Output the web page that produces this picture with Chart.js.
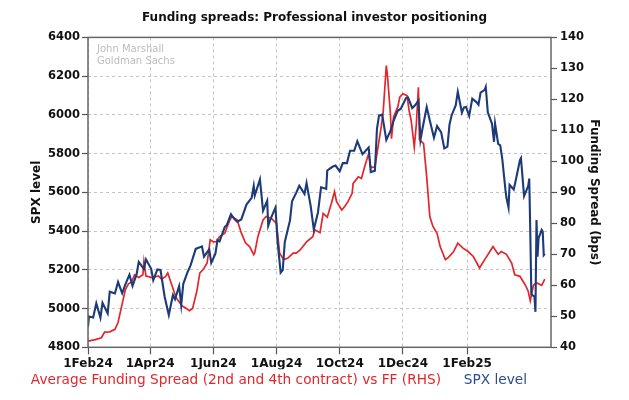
<!DOCTYPE html>
<html>
<head>
<meta charset="utf-8">
<script src="https://cdn.jsdelivr.net/npm/chart.js@4.4.1/dist/chart.umd.min.js"></script>
<style>
  html, body { margin: 0; padding: 0; background: #fff; }
  #wrap { width: 629px; height: 400px; }
</style>
</head>
<body>
<div id="wrap"><canvas id="myChart"></canvas></div>
<script>
// x axis ticks
var tickDates = ["2024-02-01", "2024-04-01", "2024-06-01", "2024-08-01", "2024-10-01", "2024-12-01", "2025-02-01"];
var tickLabels = ["1Feb24", "1Apr24", "1Jun24", "1Aug24", "1Oct24", "1Dec24", "1Feb25"];

// SPX level (LHS)
var spxDates = [
  "2024-02-01","2024-02-02","2024-02-06","2024-02-09","2024-02-13","2024-02-15","2024-02-20","2024-02-22","2024-02-27",
  "2024-03-01","2024-03-05","2024-03-08","2024-03-12","2024-03-15","2024-03-19","2024-03-21","2024-03-26","2024-03-28",
  "2024-04-02","2024-04-04","2024-04-08","2024-04-11","2024-04-15","2024-04-19","2024-04-23","2024-04-25","2024-04-29",
  "2024-05-01","2024-05-03","2024-05-07","2024-05-10","2024-05-15","2024-05-21","2024-05-23","2024-05-28","2024-05-30",
  "2024-06-03","2024-06-05","2024-06-07","2024-06-12","2024-06-14","2024-06-18","2024-06-21","2024-06-24","2024-06-28",
  "2024-07-03","2024-07-08","2024-07-10","2024-07-11","2024-07-16","2024-07-19","2024-07-23","2024-07-24","2024-07-26","2024-07-31",
  "2024-08-02","2024-08-05","2024-08-07","2024-08-09","2024-08-14","2024-08-16","2024-08-20","2024-08-23","2024-08-28","2024-08-30",
  "2024-09-03","2024-09-06","2024-09-10","2024-09-13","2024-09-18","2024-09-19","2024-09-24","2024-09-27",
  "2024-10-01","2024-10-04","2024-10-08","2024-10-11","2024-10-15","2024-10-18","2024-10-23","2024-10-25","2024-10-29","2024-10-31",
  "2024-11-04","2024-11-06","2024-11-08","2024-11-11","2024-11-15","2024-11-19","2024-11-22","2024-11-26","2024-11-29",
  "2024-12-04","2024-12-06","2024-12-10","2024-12-13","2024-12-16","2024-12-18","2024-12-20","2024-12-24","2024-12-27","2024-12-31",
  "2025-01-03","2025-01-07","2025-01-10","2025-01-13","2025-01-15","2025-01-17","2025-01-21","2025-01-23","2025-01-27","2025-01-29","2025-01-31",
  "2025-02-03","2025-02-06","2025-02-10","2025-02-12","2025-02-14","2025-02-18","2025-02-19","2025-02-21","2025-02-25","2025-02-27","2025-02-28",
  "2025-03-03","2025-03-05","2025-03-07","2025-03-10","2025-03-11","2025-03-13","2025-03-14","2025-03-18","2025-03-20","2025-03-24","2025-03-25","2025-03-28",
  "2025-04-01","2025-04-02","2025-04-03","2025-04-04","2025-04-07","2025-04-08","2025-04-09","2025-04-10","2025-04-11","2025-04-14","2025-04-15","2025-04-16","2025-04-17"
];
var spxValues = [
  4906,4959,4954,5027,4953,5030,4975,5087,5078,
  5137,5079,5124,5175,5117,5179,5241,5204,5254,
  5205,5147,5202,5199,5061,4967,5070,5048,5116,
  5018,5128,5187,5223,5308,5321,5268,5306,5236,
  5283,5354,5347,5421,5431,5487,5465,5448,5460,
  5537,5572,5633,5584,5667,5505,5556,5427,5459,5522,
  5346,5186,5199,5344,5455,5554,5597,5634,5592,5648,
  5529,5408,5496,5626,5618,5713,5732,5738,
  5709,5751,5751,5815,5815,5864,5797,5808,5832,5705,
  5712,5929,5996,6001,5871,5917,5969,6021,6032,
  6087,6090,6035,6051,6074,5872,5931,6040,5971,5882,
  5942,5909,5827,5836,5950,5997,6049,6119,6012,6039,6041,
  5995,6084,6066,6052,6115,6129,6144,6013,5955,5861,5955,
  5850,5843,5770,5614,5572,5522,5639,5615,5663,5767,5777,5581,
  5633,5671,5397,5074,5062,4983,5457,5268,5363,5406,5397,5276,5283
];

// Average funding spread vs FF, bps (RHS), days since 1 Feb 2024
var fundDays = [
  0,7,13,16,21,26,29,33,36,39,42,45,49,53,54,56,62,68,71,75,
  77,81,85,91,95,98,101,105,108,111,115,118,121,124,127,132,137,139,144,145,
  148,152,156,160,161,164,169,172,177,182,185,189,193,198,201,205,211,217,219,224,
  227,231,235,238,240,245,248,251,255,256,261,264,267,271,273,277,280,283,285,288,
  289,292,293,295,299,301,304,308,310,312,315,317,319,320,324,327,330,333,337,340,
  345,348,353,357,362,367,372,378,383,388,391,396,399,404,409,412,417,422,425,427,
  430,433,438,441
];
var fundValues = [
  42.0,42.5,43.1,44.9,45,45.8,48,54,58.5,60.5,61,63.4,62.5,63.4,67.7,63,62.5,63,62,62.9,
  64,60,56,53.3,52.5,51.8,52.5,58,64,65,67.2,74.7,74,74.1,75.7,76.8,81.1,82.2,81.1,80.0,
  76.9,73.7,72.5,69.9,70.5,75.7,81.1,82.2,81.6,80.0,70.4,68.3,68.8,70.4,70.4,71.5,74,75.7,77.9,77,
  83.2,82,86.5,90.2,87,84.3,85.5,87,89.7,92.9,95,94.5,98.2,102.5,98,98.2,104.6,111.0,116,130.9,
  128.2,115.3,107.3,114.3,117.5,120.7,121.8,121.2,116.4,113.2,104.6,112,123.9,107,105.7,95,82.2,79,76.8,72.5,
  68.3,69,70.9,73.6,72,70.9,69.3,65.6,68.3,70.9,72.5,70,70.9,70,67.2,63.4,62.9,60.2,58.1,55,
  60,60.8,60,62
];

var RED = "#e3262b";
var BLUE = "#1c3b78";
var FONT = "'DejaVu Sans', sans-serif";

function dayOf(s) {
  var p = s.split("-");
  return (Date.UTC(+p[0], +p[1] - 1, +p[2]) - Date.UTC(2024, 1, 1)) / 86400000;
}

var tickDays = tickDates.map(dayOf);
var spxPoints = spxDates.map(function (d, i) { return { x: dayOf(d), y: spxValues[i] }; });
var fundPoints = fundDays.map(function (d, i) { return { x: d, y: fundValues[i] }; });

// frame round the plot plus the watermark
var framePlugin = {
  id: "frame",
  afterDraw: function (chart) {
    var a = chart.chartArea, ctx = chart.ctx;
    ctx.save();
    ctx.strokeStyle = "#666";
    ctx.lineWidth = 1.5;
    ctx.strokeRect(a.left, a.top, a.right - a.left, a.bottom - a.top);
    ctx.fillStyle = "#bdbdbd";
    ctx.font = "10px " + FONT;
    ctx.textBaseline = "middle";
    ctx.fillText("John Marshall", a.left + 9, a.top + 12.5);
    ctx.fillText("Goldman Sachs", a.left + 9, a.top + 24);
    ctx.restore();
  }
};

new Chart(document.getElementById("myChart"), {
  type: "line",
  data: {
    datasets: [{
      label: "Average Funding Spread (2nd and 4th contract) vs FF (RHS)",
      data: fundPoints,
      yAxisID: "y1",
      borderColor: RED,
      borderWidth: 1.7,
      pointRadius: 0,
      tension: 0,
      fill: false,
      order: 2
    }, {
      label: "SPX level",
      data: spxPoints,
      yAxisID: "y",
      borderColor: BLUE,
      borderWidth: 2.1,
      pointRadius: 0,
      tension: 0,
      fill: false,
      order: 1
    }]
  },
  options: {
    responsive: true,
    maintainAspectRatio: false,
    animation: false,
    layout: { padding: { left: 8, right: 8, bottom: 3 } },
    plugins: {
      title: {
        display: true,
        text: "Funding spreads: Professional investor positioning",
        color: "#111",
        font: { family: FONT, size: 12, weight: "bold" },
        padding: { top: 10.5, bottom: 12.5 }
      },
      legend: {
        position: "bottom",
        align: "start",
        labels: {
          boxWidth: 12,
          boxHeight: 0,
          padding: 4,
          font: { family: FONT, size: 13.7 },
          generateLabels: function (chart) {
            return chart.data.datasets.map(function (ds, i) {
              return {
                text: ds.label,
                fontColor: i === 0 ? RED : "#2a4b8d",
                fillStyle: "rgba(0,0,0,0)",
                strokeStyle: "rgba(0,0,0,0)",
                lineWidth: 0,
                hidden: false,
                datasetIndex: i
              };
            });
          }
        }
      },
      tooltip: { enabled: false }
    },
    scales: {
      x: {
        type: "linear",
        min: 0,
        max: 447,
        afterBuildTicks: function (scale) {
          scale.ticks = tickDays.map(function (v) { return { value: v }; });
        },
        afterFit: function (scale) { scale.height = 22; },
        ticks: {
          autoSkip: false,
          maxRotation: 0,
          padding: 2,
          color: "#111",
          font: { family: FONT, size: 12, weight: "bold" },
          callback: function (v) {
            var i = tickDays.indexOf(v);
            return i >= 0 ? tickLabels[i] : "";
          }
        },
        grid: { color: "#c4c4c4", tickColor: "#555", tickLength: 7, tickWidth: 1.2 },
        border: { display: false, dash: [3, 3] }
      },
      y: {
        position: "left",
        min: 4800,
        max: 6400,
        afterFit: function (scale) { scale.width = 80; },
        ticks: {
          stepSize: 200,
          padding: 2,
          color: "#111",
          font: { family: FONT, size: 11.5, weight: "bold" },
          callback: function (v) { return String(v); }
        },
        title: {
          display: true,
          text: "SPX level",
          color: "#111",
          font: { family: FONT, size: 12, weight: "bold" },
          padding: { top: 22, bottom: 0 }
        },
        grid: { color: "#c4c4c4", tickColor: "#555", tickLength: 6, tickWidth: 1.2 },
        border: { display: false, dash: [3, 3] }
      },
      y1: {
        position: "right",
        min: 40,
        max: 140,
        afterFit: function (scale) { scale.width = 70; },
        ticks: {
          stepSize: 10,
          padding: 3,
          color: "#111",
          font: { family: FONT, size: 11.5, weight: "bold" },
          callback: function (v) { return String(v); }
        },
        title: {
          display: true,
          text: "Funding Spread (bps)",
          color: "#111",
          font: { family: FONT, size: 12, weight: "bold" },
          padding: { top: 20, bottom: 0 }
        },
        grid: { drawOnChartArea: false, tickColor: "#555", tickLength: 6, tickWidth: 1.2 },
        border: { display: false }
      }
    }
  },
  plugins: [framePlugin]
});
</script>
</body>
</html>
